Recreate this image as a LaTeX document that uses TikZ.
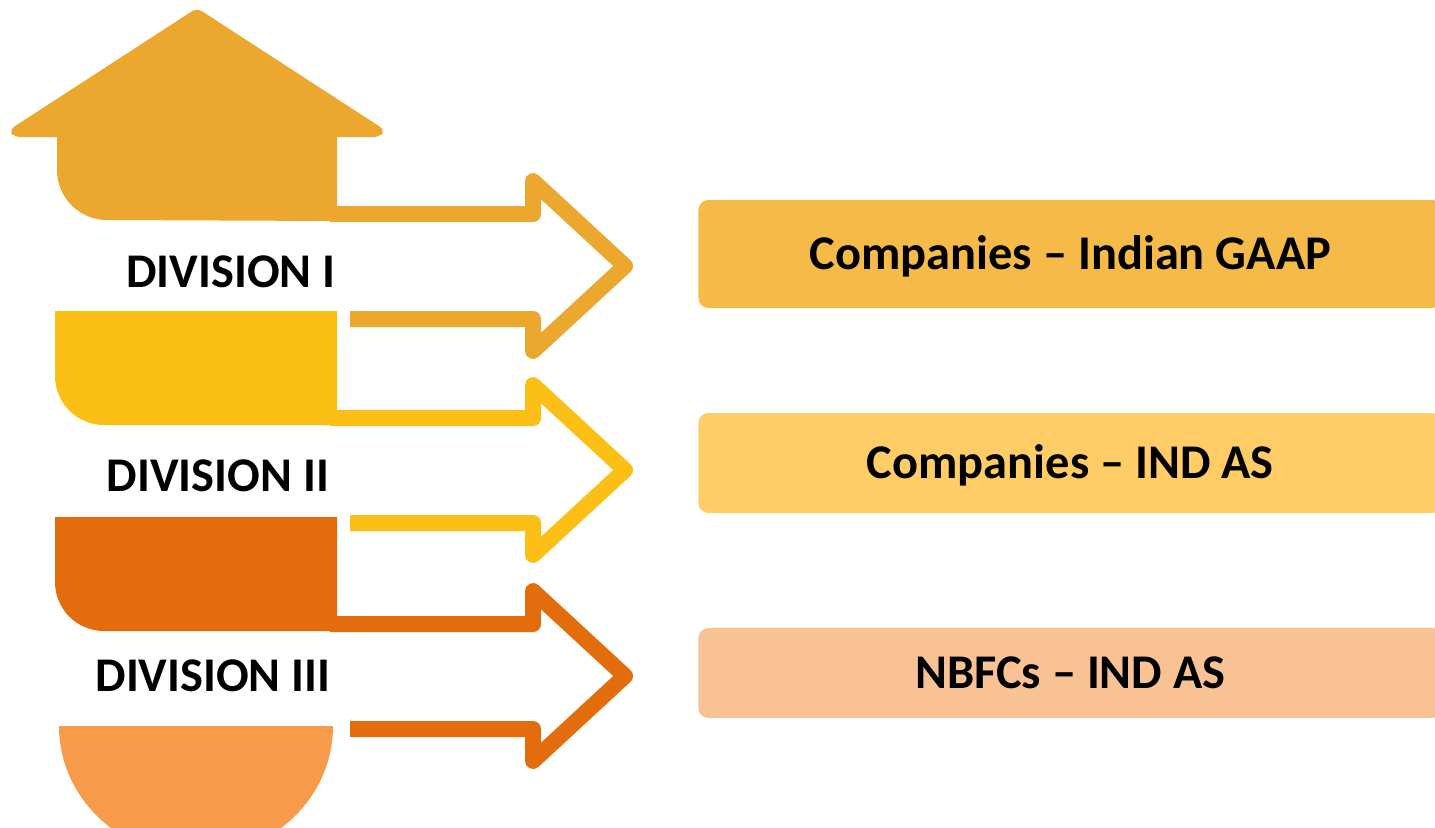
\documentclass[tikz,border=0pt]{standalone}
\usepackage{fontspec}
\setmainfont{Carlito}
\usepackage{xcolor}
\usepackage{tikz}
\definecolor{housecol}{HTML}{EBA72E}
\definecolor{divyellow}{HTML}{FBBF15}
\definecolor{divorange}{HTML}{E36C0C}
\definecolor{divpeach}{HTML}{F79A4A}
\definecolor{gaapfill}{HTML}{F5BA48}
\definecolor{indasfill}{HTML}{FFCC66}
\definecolor{nbfcfill}{HTML}{F9C294}

\begin{document}
\begin{tikzpicture}[x=0.5pt,y=-0.5pt]
  \tikzstyle{every node}=[font=\bfseries\fontsize{24.2}{29}\selectfont, text height=15.6pt, text depth=0pt, inner sep=0pt]
  \tikzstyle{outline}=[line width=8pt, line join=round]
  \tikzstyle{scheme}=[anchor=west, rounded corners=5pt, minimum width=372pt]
  \useasboundingbox (0,0) rectangle (1435,827);
  \clip (0,0) rectangle (1435,827);
  % house and the stacked blocks
  \fill[housecol, rounded corners=3pt] (14,137) -- (9,130) -- (197,8) -- (385,130) -- (380,137) -- cycle;
  \fill[housecol] (57,134) -- (57,170) arc[start angle=180, end angle=270, radius=25pt] -- (337,221) -- (337,134) -- cycle;
  \fill[divyellow] (55,311) -- (337,311) -- (337,425) -- (104,425) arc[start angle=270, end angle=180, radius=24.5pt] -- cycle;
  \fill[divorange] (55,517) -- (337,517) -- (337,631) -- (104,631) arc[start angle=270, end angle=180, radius=24.5pt] -- cycle;
  \fill[divpeach] (59,726) -- (333,726) arc[start angle=0, end angle=-180, x radius=68.5pt, y radius=65pt] -- cycle;
  % outlined arrows
  \foreach \c/\col in {266/housecol, 470/divyellow, 676/divorange}
    \draw[outline, \col] (330,\c-52) -- (533,\c-52) -- (533,\c-85) -- (625,\c) -- (533,\c+85) -- (533,\c+53) -- (350,\c+53);
  % division labels
  \node (DivI) at (231,272) {DIVISION I};
  \node (DivII) at (218,476) {DIVISION II};
  \node (DivIII) at (213,676) {DIVISION III};
  % schemes on the right
  \node[scheme, fill=gaapfill, minimum height=54pt] (Gaap) at (698,254) {Companies -- Indian GAAP};
  \node[scheme, fill=indasfill, minimum height=50pt] (IndAs) at (698,463) {Companies -- IND AS};
  \node[scheme, fill=nbfcfill, minimum height=45pt] (Nbfc) at (698,673) {NBFCs -- IND AS};
\end{tikzpicture}
\end{document}
